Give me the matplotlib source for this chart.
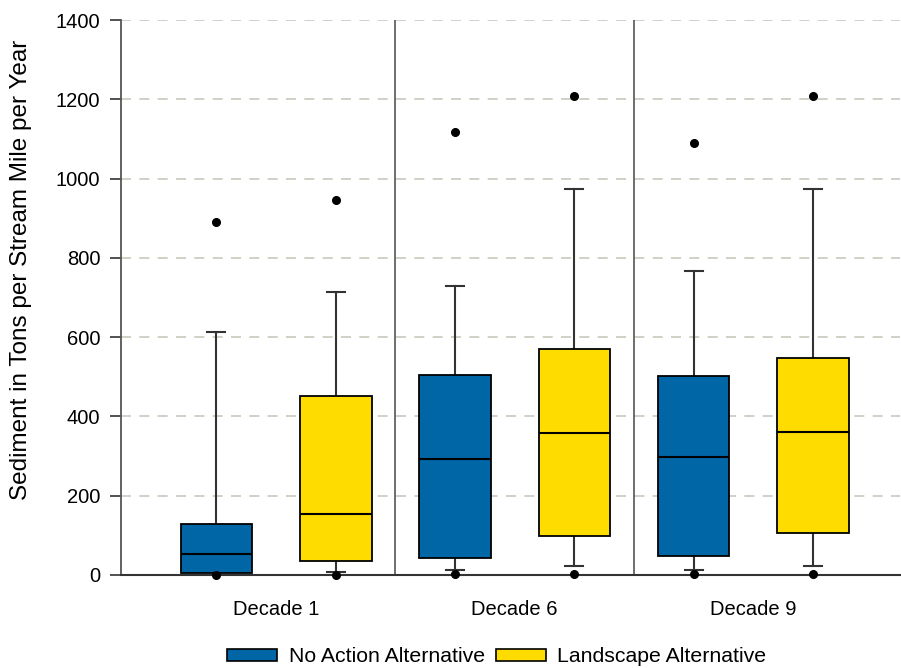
import matplotlib
matplotlib.use("Agg")
import matplotlib.pyplot as plt
from matplotlib.patches import Patch

plt.rcParams['font.family'] = ['Liberation Sans', 'DejaVu Sans']

groups = ["Decade 1", "Decade 6", "Decade 9"]
series = ["No Action Alternative", "Landscape Alternative"]
colors = ["#0066A6", "#FFDC00"]

# per box, order: D1 NA, D1 L, D6 NA, D6 L, D9 NA, D9 L
whislo = [0, 7, 12, 23, 13, 23]
q1 = [6, 35, 44, 98, 49, 107]
med = [53, 154, 293, 358, 298, 361]
q3 = [128, 452, 505, 570, 502, 547]
whishi = [613, 714, 729, 974, 767, 974]
fliers = [[890, 0], [946, 0], [1118, 3], [1208, 3], [1090, 2], [1208, 2]]

fig = plt.figure(figsize=(9.01, 6.68), dpi=100)
ax = fig.add_axes([121/901, 1 - 575/668, (900 - 121)/901, (575 - 20)/668])

stats = []
for i in range(6):
    stats.append(dict(whislo=whislo[i], q1=q1[i], med=med[i], q3=q3[i],
                      whishi=whishi[i], fliers=fliers[i]))
positions = list(range(1, 7))
bp = ax.bxp(stats, positions=positions, widths=0.6, patch_artist=True,
            capwidths=0.15,
            boxprops=dict(edgecolor="black", linewidth=1.3),
            medianprops=dict(color="black", linewidth=1.5),
            whiskerprops=dict(color="#333333", linewidth=1.5),
            capprops=dict(color="#333333", linewidth=1.5),
            flierprops=dict(marker="o", markerfacecolor="black", markeredgecolor="black",
                            markersize=5.5))
for i, b in enumerate(bp['boxes']):
    b.set_facecolor(colors[i % 2])
    b.set_zorder(3)
for m in bp['medians']:
    m.set_zorder(4)
for f in bp['fliers']:
    f.set_clip_on(False)
    f.set_zorder(6)

ax.set_xlim(0.2, 6.73)
ax.set_ylim(0, 1400)
ax.set_yticks(range(0, 1401, 200))
ax.yaxis.grid(True, linestyle=(0, (6, 5)), color="#c8c8bc", linewidth=1.2)
ax.set_axisbelow(True)
for x in [2.5, 4.5]:
    ax.axvline(x, color="#555555", linewidth=1.2, zorder=2)

ax.set_xticks([1.5, 3.5, 5.5])
ax.set_xticklabels(groups)
ax.tick_params(axis='x', length=0, pad=18, labelsize=14.5)
ax.tick_params(axis='y', length=8, width=1.2, color="#333333", labelsize=14.5, pad=7)
for s in ['top', 'right']:
    ax.spines[s].set_visible(False)
ax.spines['left'].set_color("#555555")
ax.spines['left'].set_linewidth(1.3)
ax.spines['bottom'].set_color("#333333")
ax.spines['bottom'].set_linewidth(1.5)
ax.spines['bottom'].set_zorder(5)

ax.set_ylabel("Sediment in Tons per Stream Mile per Year", fontsize=17.5)
ax.yaxis.set_label_coords(-89/779, (575 - 270)/555)

handles = [Patch(facecolor=colors[i], edgecolor="black", linewidth=1.2, label=series[i]) for i in range(2)]
fig.legend(handles=handles, loc="center", bbox_to_anchor=(497/901, 1 - 657/668), ncol=2,
           frameon=False, fontsize=15.3, handlelength=2.35, handleheight=0.5,
           columnspacing=0.5, handletextpad=0.55)

fig.savefig("out.png", dpi=100)
